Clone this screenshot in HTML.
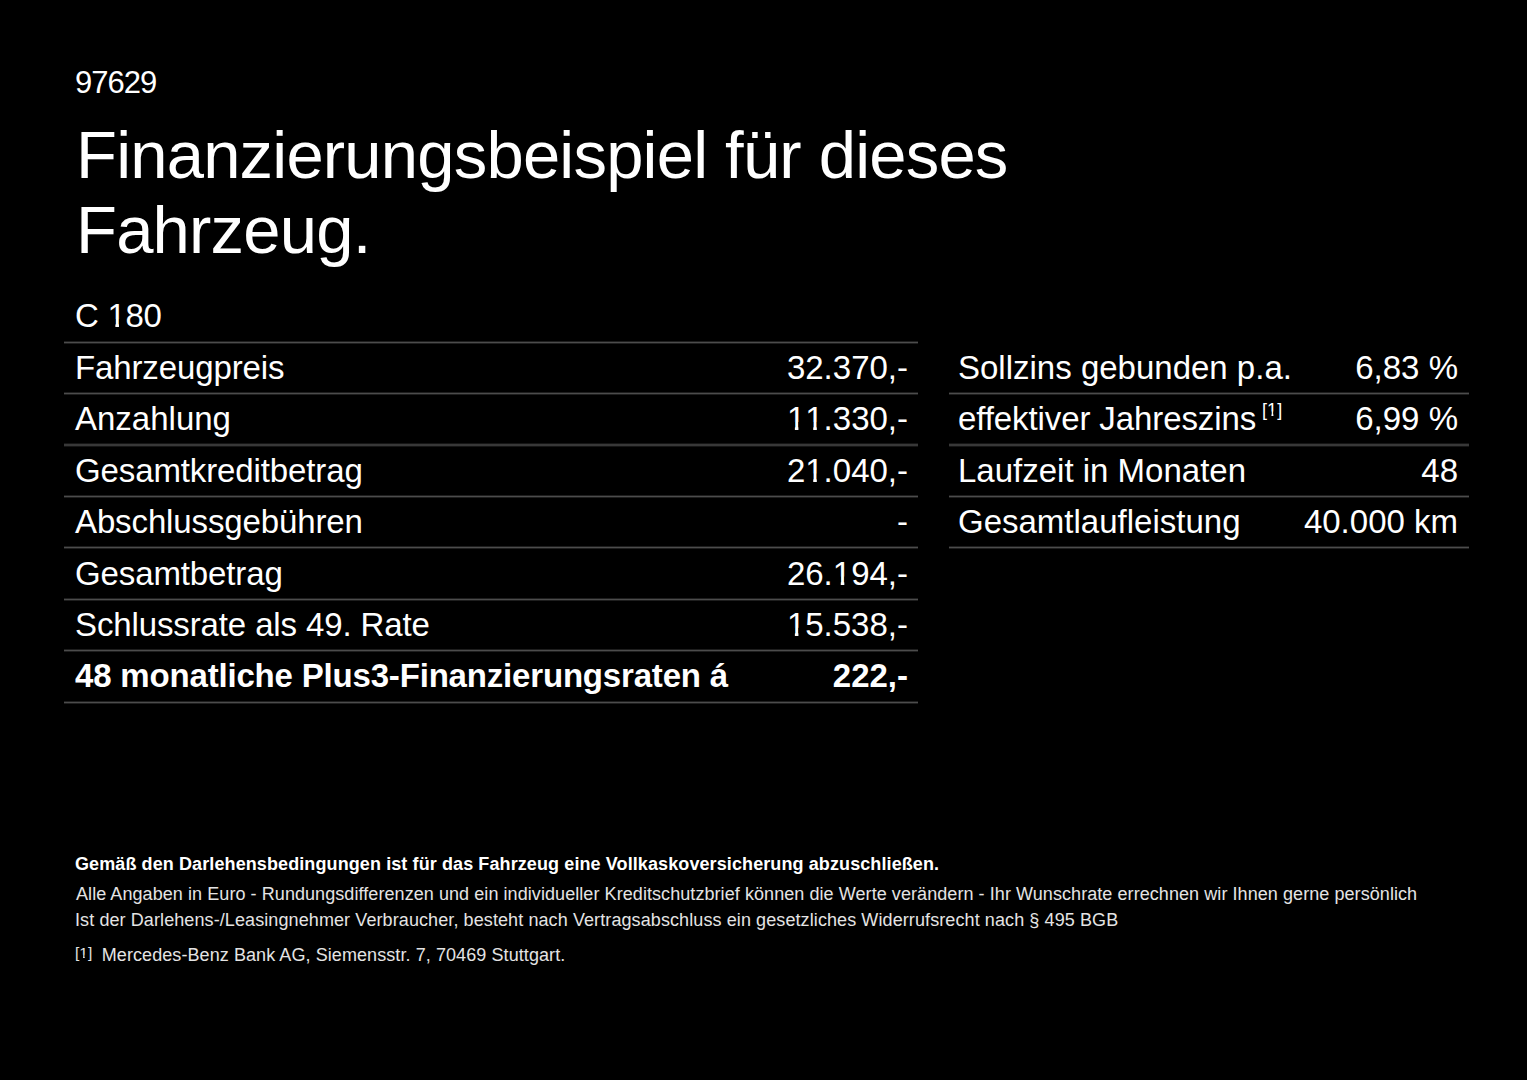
<!DOCTYPE html>
<html><head><meta charset="utf-8">
<style>
html,body{margin:0;padding:0;background:#000;}
body{width:1527px;height:1080px;overflow:hidden;position:relative;color:#fff;font-family:"Liberation Sans",sans-serif;}
.t{position:absolute;white-space:nowrap;line-height:1;}
.id{left:75px;top:66.5px;font-size:31px;letter-spacing:-1px;}
.h1{left:76px;font-size:67px;letter-spacing:-0.8px;}
.model{left:75px;top:299.3px;font-size:33px;letter-spacing:-0.3px;}
.c{font-size:33px;}
.r{text-align:right;}
.line{position:absolute;}
.l3{height:3px;background:linear-gradient(#1e1e1e 0 1px,#4c4c4c 1px 2px,#1e1e1e 2px 3px);}
.l4{height:4px;background:linear-gradient(#151515 0 1px,#383838 1px 3px,#151515 3px 4px);}
.b{font-weight:bold;}
.sup{font-size:18px;position:relative;top:-14.5px;margin-left:6px;letter-spacing:0;}
.fn{left:75px;font-size:18px;letter-spacing:0.08px;color:#e4e4e4;}
.fb{font-weight:bold;color:#fff;}
.one{display:inline-block;clip-path:polygon(-1em -1em,2em -1em,2em 0.6em,0.35em 0.6em,0.35em 2em,0.242em 2em,0.242em 0.6em,-1em 0.6em);}
</style></head>
<body>
<div class="t id">97629</div>
<div class="t h1" style="top:120.9px">Finanzierungsbeispiel für dieses</div>
<div class="t h1" style="top:196.3px">Fahrzeug.</div>
<div class="t model">C <span class="one">1</span>80</div>

<div class="line l3" style="left:64px;width:854px;top:341px"></div>
<div class="line l3" style="left:64px;width:854px;top:392px"></div>
<div class="line l4" style="left:64px;width:854px;top:443px"></div>
<div class="line l3" style="left:64px;width:854px;top:495px"></div>
<div class="line l3" style="left:64px;width:854px;top:546px"></div>
<div class="line l3" style="left:64px;width:854px;top:598px"></div>
<div class="line l3" style="left:64px;width:854px;top:649px"></div>
<div class="line l3" style="left:64px;width:854px;top:701px"></div>
<div class="line l3" style="left:949px;width:520px;top:392px"></div>
<div class="line l4" style="left:949px;width:520px;top:443px"></div>
<div class="line l3" style="left:949px;width:520px;top:495px"></div>
<div class="line l3" style="left:949px;width:520px;top:546px"></div>
<div class="t c" style="left:75px;top:350.9px;letter-spacing:-0.12px;">Fahrzeugpreis</div>
<div class="t c r" style="right:619px;top:350.9px">32.370,-</div>
<div class="t c" style="left:75px;top:402.3px;">Anzahlung</div>
<div class="t c r" style="right:619px;top:402.3px"><span class="one">1</span><span class="one">1</span>.330,-</div>
<div class="t c" style="left:75px;top:453.7px;letter-spacing:-0.12px;">Gesamtkreditbetrag</div>
<div class="t c r" style="right:619px;top:453.7px">2<span class="one">1</span>.040,-</div>
<div class="t c" style="left:75px;top:505.1px;letter-spacing:-0.12px;">Abschlussgebühren</div>
<div class="t c r" style="right:619px;top:505.1px">-</div>
<div class="t c" style="left:75px;top:556.6px;letter-spacing:-0.12px;">Gesamtbetrag</div>
<div class="t c r" style="right:619px;top:556.6px">26.<span class="one">1</span>94,-</div>
<div class="t c" style="left:75px;top:608.0px;letter-spacing:-0.12px;">Schlussrate als 49. Rate</div>
<div class="t c r" style="right:619px;top:608.0px"><span class="one">1</span>5.538,-</div>
<div class="t c b" style="left:75px;top:659.4px;letter-spacing:-0.18px;">48 monatliche Plus3-Finanzierungsraten á</div>
<div class="t c r b" style="right:619px;top:659.4px">222,-</div>
<div class="t c" style="left:958px;top:350.9px">Sollzins gebunden p.a.</div>
<div class="t c r" style="right:69px;top:350.9px">6,83 %</div>
<div class="t c" style="left:958px;top:402.3px"><span style="letter-spacing:-0.1px">effektiver Jahreszins</span><span class="sup">[<span class="one">1</span>]</span></div>
<div class="t c r" style="right:69px;top:402.3px">6,99 %</div>
<div class="t c" style="left:958px;top:453.7px">Laufzeit in Monaten</div>
<div class="t c r" style="right:69px;top:453.7px">48</div>
<div class="t c" style="left:958px;top:505.1px">Gesamtlaufleistung</div>
<div class="t c r" style="right:69px;top:505.1px">40.000 km</div>
<div class="t fn fb" style="top:854.8px;letter-spacing:0.1px">Gemäß den Darlehensbedingungen ist für das Fahrzeug eine Vollkaskoversicherung abzuschließen.</div>
<div class="t fn" style="top:884.8px;left:76px;letter-spacing:0.07px">Alle Angaben in Euro - Rundungsdifferenzen und ein individueller Kreditschutzbrief können die Werte verändern - Ihr Wunschrate errechnen wir Ihnen gerne persönlich</div>
<div class="t fn" style="top:910.9px;letter-spacing:0.095px">Ist der Darlehens-/Leasingnehmer Verbraucher, besteht nach Vertragsabschluss ein gesetzliches Widerrufsrecht nach § 495 BGB</div>
<div class="t fn" style="top:945.9px;"><span style="font-size:15.5px;position:relative;top:-2.5px;letter-spacing:0;">[<span class="one">1</span>]</span><span style="display:inline-block;width:9.5px"></span>Mercedes-Benz Bank AG, Siemensstr. 7, 70469 Stuttgart.</div>
</body></html>
